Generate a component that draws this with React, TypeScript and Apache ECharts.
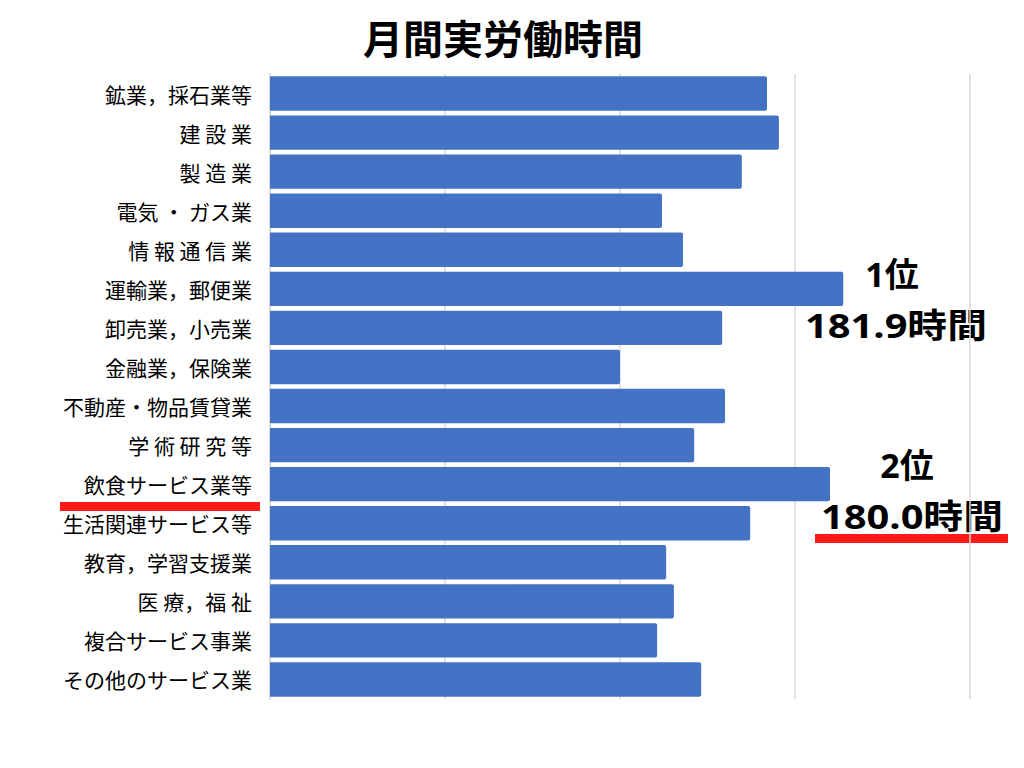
import React, { useEffect, useRef } from "react";
import * as echarts from "echarts";

const categories = [
  "鉱業，採石業等",
  "建 設 業",
  "製 造 業",
  "電気 ・ ガス業",
  "情 報 通 信 業",
  "運輸業，郵便業",
  "卸売業，小売業",
  "金融業，保険業",
  "不動産・物品賃貸業",
  "学 術 研 究 等",
  "飲食サービス業等",
  "生活関連サービス等",
  "教育，学習支援業",
  "医 療，福 祉",
  "複合サービス事業",
  "その他のサービス業",
];

const hours = [
  171.0, 172.7, 167.4, 156.0, 159.0, 181.9, 164.6, 150.0, 165.0, 160.6, 180.0,
  168.6, 156.6, 157.7, 155.3, 161.6,
];

const titleText = "月間実労働時間";
const rank1 = ["1位", "181.9時間"];
const rank2 = ["2位", "180.0時間"];

const FONT = "'Noto Sans CJK JP', 'Noto Sans', sans-serif";
const NUMFONT = "'Open Sans', 'Noto Sans CJK JP', sans-serif";

export default function App() {
  const ref = useRef<HTMLDivElement>(null);
  useEffect(() => {
    if (!ref.current) return;
    const chart = echarts.init(ref.current, null, { renderer: "svg" });
    chart.setOption({
      animation: false,
      backgroundColor: "#ffffff",
      title: {
        text: titleText,
        left: 358,
        top: 12,
        textStyle: { fontFamily: FONT, fontSize: 40, fontWeight: "bold", color: "#000" },
      },
      grid: { left: 270, right: 54, top: 74, bottom: 69, containLabel: false },
      xAxis: {
        type: "value",
        min: 100,
        max: 200,
        interval: 25,
        axisLabel: { show: false },
        axisLine: { show: false },
        axisTick: { show: false },
        splitLine: { show: true, lineStyle: { color: "#d9d9d9", width: 1.5 } },
      },
      yAxis: {
        type: "category",
        data: categories,
        inverse: true,
        axisLine: { show: true, lineStyle: { color: "#d9d9d9", width: 1.5 } },
        axisTick: { show: false },
        axisLabel: {
          margin: 18,
          fontFamily: FONT,
          fontSize: 21,
          color: "#000",
        },
      },
      series: [
        {
          type: "bar",
          data: hours,
          barCategoryGap: "12%",
          itemStyle: { color: "#4472C4", borderRadius: [0, 2, 2, 0] },
        },
      ],
      graphic: [
        {
          type: "text",
          x: 892,
          y: 274,
          style: {
            text: rank1[0],
            font: `bold 34px ${NUMFONT}`,
            fill: "#000",
            textAlign: "center",
            textVerticalAlign: "middle",
          },
        },
        {
          type: "text",
          x: 896,
          y: 325,
          scaleX: 1.17,
          style: {
            text: rank1[1],
            font: `bold 34px ${NUMFONT}`,
            fill: "#000",
            textAlign: "center",
            textVerticalAlign: "middle",
          },
        },
        {
          type: "text",
          x: 907,
          y: 465,
          style: {
            text: rank2[0],
            font: `bold 34px ${NUMFONT}`,
            fill: "#000",
            textAlign: "center",
            textVerticalAlign: "middle",
          },
        },
        {
          type: "text",
          x: 912,
          y: 516,
          scaleX: 1.17,
          style: {
            text: rank2[1],
            font: `bold 34px ${NUMFONT}`,
            fill: "#000",
            textAlign: "center",
            textVerticalAlign: "middle",
          },
        },
        {
          type: "rect",
          shape: { x: 815, y: 534, width: 193, height: 9 },
          style: { fill: "#ff1a1a" },
        },
        {
          type: "rect",
          shape: { x: 60, y: 502, width: 200, height: 9 },
          style: { fill: "#ff1a1a" },
        },
      ],
    });
    return () => chart.dispose();
  }, []);
  return (
    <div
      ref={ref}
      style={{ position: "fixed", left: 0, top: 0, width: 1024, height: 768 }}
    />
  );
}
